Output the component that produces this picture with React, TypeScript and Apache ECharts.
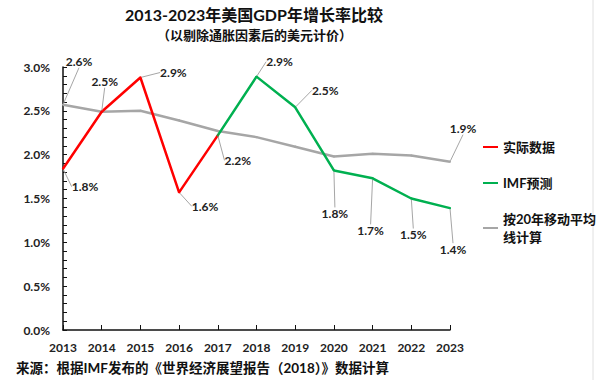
import React, { useEffect, useRef } from "react";
import * as echarts from "echarts";

const years = ["2013", "2014", "2015", "2016", "2017", "2018", "2019", "2020", "2021", "2022", "2023"];
const actual = [1.84, 2.49, 2.88, 1.57, 2.22, null, null, null, null, null, null];
const imfForecast = [null, null, null, null, 2.22, 2.89, 2.54, 1.82, 1.73, 1.5, 1.39];
const movingAvg = [2.57, 2.49, 2.5, 2.39, 2.27, 2.2, 2.09, 1.98, 2.01, 1.99, 1.92];
const yTicks = [0, 0.5, 1, 1.5, 2, 2.5, 3];

const seriesNames = ["实际数据", "IMF预测", "按20年移动平均线计算"];
const legendText: Record<string, string> = {
  "实际数据": "实际数据",
  "IMF预测": "IMF预测",
  "按20年移动平均线计算": "按20年移动平均\n线计算",
};

const titleText = "2013-2023年美国GDP年增长率比较";
const subtitleText = "（以剔除通胀因素后的美元计价）";
const sourceText = "来源：根据IMF发布的《世界经济展望报告（2018）》数据计算";

// label offsets (label centre relative to the point), null = no label
const actualOffsets: ([number, number] | null)[] = [[22, 18], [3, -30], [33, -5], [26, 14], [20, 25], null, null, null, null, null, null];
const imfOffsets: ([number, number] | null)[] = [null, null, null, null, null, [23, -15], [30, -17], [1, 43], [-2, 52], [2, 36], [3, 41]];
const avgOffsets: ([number, number] | null)[] = [[16, -43], null, null, null, null, null, null, null, null, null, [13, -33]];

const FONT = "Lato, 'Noto Sans CJK SC', sans-serif";

function buildData(values: (number | null)[], offsets: ([number, number] | null)[]) {
  return values.map((v, i) => ({
    value: v,
    label: { show: v !== null && offsets[i] !== null },
  }));
}

function makeLayout(offsets: ([number, number] | null)[]) {
  return (params: any) => {
    const off = offsets[params.dataIndex];
    if (!off) return {};
    const r = params.rect;
    return {
      x: r.x + r.width / 2 + off[0],
      y: r.y + r.height / 2 + off[1],
      align: "center",
      verticalAlign: "middle",
    };
  };
}

function lineSeries(name: string, values: (number | null)[], offsets: ([number, number] | null)[], color: string, z: number) {
  return {
    name,
    type: "line",
    data: buildData(values, offsets),
    z,
    symbol: "circle",
    symbolSize: 2,
    showSymbol: true,
    lineStyle: { color, width: 2.5 },
    itemStyle: { color },
    silent: true,
    emphasis: { disabled: true },
    label: {
      show: true,
      position: "top",
      formatter: (p: any) => `${Number(p.value).toFixed(1)}%`,
      fontFamily: FONT,
      fontSize: 12,
      fontWeight: "bold",
      color: "#222",
    },
    labelLine: { show: true, lineStyle: { color: "#a6a6a6", width: 1 } },
    labelLayout: makeLayout(offsets),
  };
}

export default function App() {
  const ref = useRef<HTMLDivElement>(null);
  useEffect(() => {
    document.body.style.margin = "0";
    if (!ref.current) return;
    const chart = echarts.init(ref.current, null, { renderer: "svg" });
    chart.setOption({
      animation: false,
      backgroundColor: "#fff",
      textStyle: { fontFamily: FONT },
      grid: { left: 63, right: 150, top: 67, bottom: 50, containLabel: false },
      xAxis: {
        type: "category",
        data: years,
        boundaryGap: false,
        axisLine: { lineStyle: { color: "#111", width: 1.5 } },
        axisTick: { show: true, inside: true, length: 5, alignWithLabel: true, lineStyle: { color: "#111" } },
        axisLabel: { fontFamily: FONT, fontSize: 12, fontWeight: "bold", color: "#222", margin: 11 },
        splitLine: { show: false },
      },
      yAxis: {
        type: "value",
        min: yTicks[0],
        max: yTicks[yTicks.length - 1],
        interval: 0.5,
        axisLine: { show: true, lineStyle: { color: "#111", width: 1.5 } },
        axisTick: { show: true, inside: true, length: 4, lineStyle: { color: "#111" } },
        minorTick: { show: true, splitNumber: 5, length: 4, lineStyle: { color: "#111" } },
        axisLabel: {
          fontFamily: FONT,
          fontSize: 12,
          fontWeight: "bold",
          color: "#222",
          margin: 13,
          formatter: (v: number) => `${v.toFixed(1)}%`,
        },
        splitLine: { show: false },
        minorSplitLine: { show: false },
      },
      legend: {
        orient: "vertical",
        left: 478,
        top: 133,
        itemGap: 18,
        itemWidth: 15,
        itemHeight: 2,
        icon: "rect",
        data: seriesNames,
        formatter: (n: string) => legendText[n] ?? n,
        textStyle: { fontFamily: FONT, fontSize: 13, fontWeight: "bold", color: "#111", lineHeight: 18 },
        selectedMode: false,
      },
      graphic: [
        {
          type: "text",
          left: 125,
          top: 6,
          style: { text: titleText, fontFamily: FONT, fontSize: 16, fontWeight: "bold", fill: "#111" },
        },
        {
          type: "text",
          left: 157,
          top: 28,
          style: { text: subtitleText, fontFamily: FONT, fontSize: 13, fontWeight: "bold", fill: "#111" },
        },
        {
          type: "text",
          left: 16,
          top: 361,
          style: { text: sourceText, fontFamily: FONT, fontSize: 13.5, fontWeight: "bold", fill: "#111" },
        },
        {
          type: "line",
          shape: { x1: 593, y1: 0, x2: 593, y2: 380 },
          style: { stroke: "#e0e0e0", lineWidth: 1 },
        },
      ],
      series: [
        lineSeries(seriesNames[2], movingAvg, avgOffsets, "#a6a6a6", 1),
        lineSeries(seriesNames[0], actual, actualOffsets, "#ff0000", 2),
        lineSeries(seriesNames[1], imfForecast, imfOffsets, "#00b050", 2),
      ],
    });
    return () => chart.dispose();
  }, []);
  return <div ref={ref} style={{ width: 600, height: 380 }} />;
}
